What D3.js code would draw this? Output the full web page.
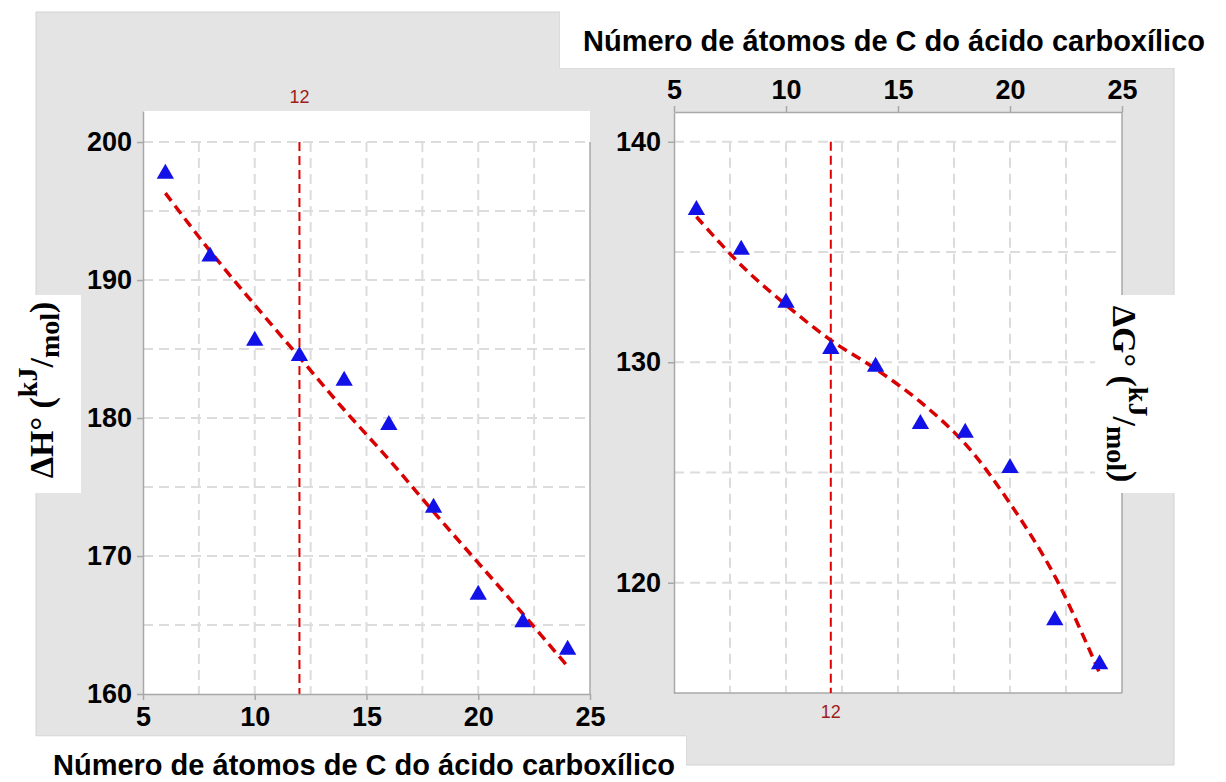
<!DOCTYPE html>
<html>
<head>
<meta charset="utf-8">
<script src="https://cdn.jsdelivr.net/npm/d3@7"></script>
<style>
  html, body { margin: 0; padding: 0; background: #ffffff; }
  svg { display: block; }
  .tick text { font-family: "Liberation Sans", Arial, sans-serif; font-weight: bold; font-size: 27px; fill: #000; }
</style>
</head>
<body>
<svg id="chart" width="1226" height="782"></svg>
<script>
// Number of carbon atoms of the carboxylic acid
const carbonAtoms = [6, 8, 10, 12, 14, 16, 18, 20, 22, 24];

// Enthalpy (kJ/mol): measured points and fitted trend
const deltaH    = [197.7, 191.7, 185.6, 184.5, 182.7, 179.5, 173.5, 167.2, 165.2, 163.2];
const deltaHFit = [196.3, 192.1, 188.2, 184.4, 180.6, 177.0, 173.2, 169.5, 165.8, 162.0];

// Gibbs energy (kJ/mol): measured points and fitted trend
const deltaG    = [136.9, 135.1, 132.7, 130.6, 129.8, 127.2, 126.8, 125.2, 118.3, 116.3];
const deltaGFit = [136.6, 134.4, 132.6, 131.0, 129.7, 128.2, 126.3, 123.6, 120.3, 115.9];

// Axis ticks and grid positions
const xTicks = [5, 10, 15, 20, 25];
const xGrid  = [7.5, 10, 12.5, 15, 17.5, 20, 22.5];
const hTicks = [160, 170, 180, 190, 200];
const hGrid  = [165, 170, 175, 180, 185, 190, 195, 200];
const gTicks = [120, 130, 140];
const gGrid  = [120, 125, 130, 135, 140];

// Reference chain length
const markerX = 12;

const xTitle = "Número de átomos de C do ácido carboxílico";

const svg = d3.select("#chart");
const GRAY = "#e4e4e4";

// Shared grey backdrop of both panels
svg.append("path")
  .attr("d", "M36,12 L560,12 L560,68 L1174,68 L1174,765 L686,765 L686,736 L36,736 Z")
  .attr("fill", GRAY)
  .attr("stroke", "#d2d2d2")
  .attr("stroke-width", 1);

function drawPanel(cfg) {
  const g = svg.append("g");
  const x = d3.scaleLinear().domain([5, 25]).range([cfg.left, cfg.right]);
  const y = d3.scaleLinear().domain(cfg.yDomain).range([cfg.bottom, cfg.top]);
  const gridTop = y(cfg.gridMax);

  g.append("rect")
    .attr("x", cfg.left).attr("y", cfg.top)
    .attr("width", cfg.right - cfg.left).attr("height", cfg.bottom - cfg.top)
    .attr("fill", "#ffffff");

  // dashed grid
  g.selectAll(".hgrid").data(cfg.yGrid).join("line")
    .attr("x1", cfg.left).attr("x2", cfg.right)
    .attr("y1", d => y(d)).attr("y2", d => y(d))
    .attr("stroke", "#dcdcdc").attr("stroke-width", 2)
    .attr("stroke-dasharray", "10,6");
  g.selectAll(".vgrid").data(xGrid).join("line")
    .attr("x1", d => x(d)).attr("x2", d => x(d))
    .attr("y1", gridTop).attr("y2", cfg.bottom)
    .attr("stroke", "#dcdcdc").attr("stroke-width", 2)
    .attr("stroke-dasharray", "10,6");

  // frame lines
  const frame = cfg.frame(x, y);
  frame.forEach(f => g.append("line")
    .attr("x1", f[0]).attr("y1", f[1]).attr("x2", f[2]).attr("y2", f[3])
    .attr("stroke", "#a8a8a8").attr("stroke-width", 1.5));

  // reference line at 12 carbons
  g.append("line")
    .attr("x1", x(markerX)).attr("x2", x(markerX))
    .attr("y1", gridTop).attr("y2", cfg.bottom)
    .attr("stroke", "#e00000").attr("stroke-width", 2)
    .attr("stroke-dasharray", "9,5");
  g.append("text")
    .attr("x", x(markerX)).attr("y", cfg.markerLabelY)
    .attr("text-anchor", "middle")
    .attr("font-family", "'Liberation Sans', Arial, sans-serif")
    .attr("font-size", 18).attr("fill", "#9e1c1c")
    .text(markerX);

  // fitted trend
  const line = d3.line()
    .x((d, i) => x(carbonAtoms[i]))
    .y(d => y(d))
    .curve(d3.curveCatmullRom);
  g.append("path")
    .attr("d", line(cfg.fit))
    .attr("fill", "none")
    .attr("stroke", "#d80000").attr("stroke-width", 3.5)
    .attr("stroke-dasharray", "10,6");

  // measured values
  const tri = d3.symbol().type(d3.symbolTriangle).size(130);
  g.selectAll(".pt").data(cfg.values).join("path")
    .attr("d", tri)
    .attr("transform", (d, i) => `translate(${x(carbonAtoms[i])},${y(d)})`)
    .attr("fill", "#1212e8");

  // axes
  const yAxis = d3.axisLeft(y).tickValues(cfg.yTicks).tickSize(6).tickSizeOuter(0).tickPadding(cfg.yPad);
  const ya = g.append("g").attr("transform", `translate(${cfg.left},0)`).call(yAxis);
  ya.select(".domain").attr("stroke", "#a8a8a8").attr("stroke-width", 1.5);
  ya.selectAll(".tick line").attr("stroke", "#a8a8a8").attr("stroke-width", 1.5);

  const xAxis = (cfg.xOnTop ? d3.axisTop(x) : d3.axisBottom(x))
    .tickValues(xTicks).tickSize(6).tickSizeOuter(0).tickPadding(cfg.xPad);
  const xa = g.append("g")
    .attr("transform", `translate(0,${cfg.xOnTop ? cfg.top : cfg.bottom})`)
    .call(xAxis);
  xa.select(".domain").attr("stroke", "#a8a8a8").attr("stroke-width", 1.5);
  xa.selectAll(".tick line").attr("stroke", "#a8a8a8").attr("stroke-width", 1.5);
  return { x, y };
}

// Enthalpy panel
drawPanel({
  left: 143, right: 590, top: 111, bottom: 694,
  yDomain: [160, 202.25], gridMax: 200,
  yTicks: hTicks, yGrid: hGrid, values: deltaH, fit: deltaHFit,
  xOnTop: false, xPad: 7, yPad: 5, markerLabelY: 103,
  frame: (x, y) => [[590, y(200), 590, 694]]
});

// Gibbs energy panel
drawPanel({
  left: 674, right: 1122, top: 112, bottom: 693,
  yDomain: [115, 141.35], gridMax: 140,
  yTicks: gTicks, yGrid: gGrid, values: deltaG, fit: deltaGFit,
  xOnTop: true, xPad: 7, yPad: 7, markerLabelY: 718,
  frame: (x, y) => [[1122, 112, 1122, 693], [674, 693, 1122, 693]]
});

// White label boxes
svg.append("rect").attr("x", 560).attr("y", 0).attr("width", 666).attr("height", 68).attr("fill", "#fff");
svg.append("rect").attr("x", 0).attr("y", 736.5).attr("width", 686).attr("height", 46).attr("fill", "#fff");
svg.append("rect").attr("x", 0).attr("y", 295).attr("width", 81).attr("height", 198).attr("fill", "#fff");
svg.append("rect").attr("x", 1095).attr("y", 295).attr("width", 131).attr("height", 198).attr("fill", "#fff");

// X axis titles
const titleFont = "'Liberation Sans', Arial, sans-serif";
svg.append("text")
  .attr("x", 894).attr("y", 51).attr("text-anchor", "middle")
  .attr("font-family", titleFont).attr("font-weight", "bold").attr("font-size", 29)
  .text(xTitle);
svg.append("text")
  .attr("x", 364).attr("y", 775).attr("text-anchor", "middle")
  .attr("font-family", titleFont).attr("font-weight", "bold").attr("font-size", 29)
  .text(xTitle);

// Y axis titles: symbol with kJ over mol unit
function yTitle(sym, tx, ty, angle) {
  const t = svg.append("text")
    .attr("transform", `translate(${tx},${ty}) rotate(${angle})`)
    .attr("text-anchor", "middle")
    .attr("font-family", "'Liberation Serif', 'Times New Roman', serif")
    .attr("font-weight", "bold").attr("font-size", 34);
  t.append("tspan").text(sym + "° (");
  t.append("tspan").attr("font-size", 28).attr("dy", -16).text("kJ");
  t.append("tspan").attr("dy", 16).text("/");
  t.append("tspan").attr("font-size", 28).attr("dy", 6).text("mol");
  t.append("tspan").attr("dy", -6).text(")");
}
yTitle("ΔH", 53, 390, -90);
yTitle("ΔG", 1113, 394, 90);
</script>
</body>
</html>
